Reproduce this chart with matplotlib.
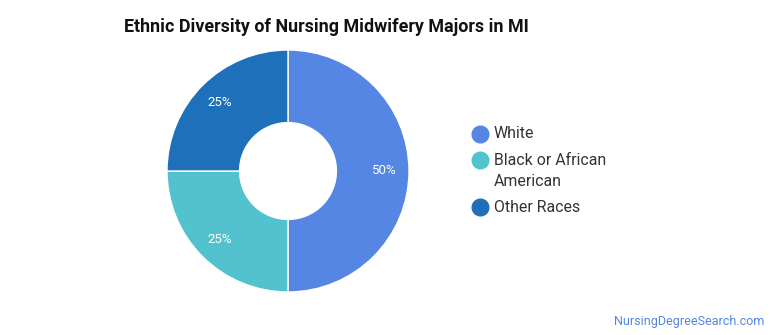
import matplotlib.pyplot as plt

plt.rcParams['font.family'] = ['Roboto', 'DejaVu Sans']

# data
groups = ['White', 'Black or African\nAmerican', 'Other Races']
shares = [50, 25, 25]
colors = ['#5586E3', '#52C3CE', '#1F70BB']

W, H = 770, 335
fig = plt.figure(figsize=(W / 100, H / 100), dpi=100)

# donut centred at (288, 171) px, outer radius 121 px
cx, cy, r = 288, 171, 121
ax = fig.add_axes([(cx - r) / W, (H - cy - r) / H, 2 * r / W, 2 * r / H])
wedges, texts, autotexts = ax.pie(
    shares, colors=colors, startangle=90, counterclock=False,
    autopct='%d%%', pctdistance=0.8, radius=1,
    wedgeprops=dict(width=0.6, edgecolor='white', linewidth=1))
for t in autotexts:
    t.set_color('white')
    t.set_fontsize(9.5)
ax.set_xlim(-1, 1)
ax.set_ylim(-1, 1)
ax.axis('off')

fig.text(124 / W, 1 - 27 / H, 'Ethnic Diversity of Nursing Midwifery Majors in MI',
         fontsize=12.9, fontweight='bold', color='#111111', va='center', ha='left')

# legend drawn by hand so the marker sits on the first line of a wrapped label
y = 134
for label, c in zip(groups, colors):
    fig.lines.append(plt.Line2D([480 / W], [1 - y / H], marker='o', markersize=12,
                                color=c, transform=fig.transFigure))
    for k, line in enumerate(label.split('\n')):
        fig.text(494 / W, 1 - (y + 21 * k) / H, line, fontsize=11.4,
                 color='#333333', va='center', ha='left')
    y += 26 + 21 * label.count('\n')

fig.text(764 / W, 1 - 321 / H, 'NursingDegreeSearch.com', fontsize=9,
         color='#5586E3', ha='right', va='center')

fig.savefig('out.png', dpi=100)
